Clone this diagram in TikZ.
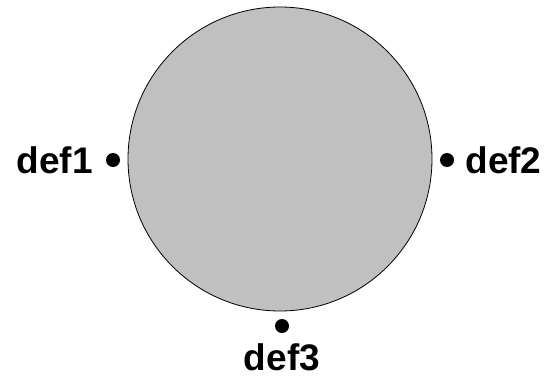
\documentclass[tikz,border=0pt]{standalone}
\usepackage{fontspec}
\setmainfont{Liberation Sans}
\usepackage{tikz}
\usetikzlibrary{positioning}
\definecolor{discgray}{RGB}{192,192,192}
\tikzset{
  dot/.style={circle, fill=black, inner sep=0pt, minimum size=14pt},
  lbl/.style={font=\fontsize{37}{37}\selectfont\bfseries, inner sep=0pt}
}

\begin{document}
\begin{tikzpicture}[x=1pt, y=-1pt]
  \useasboundingbox (0,0) rectangle (556,380);
  \node[circle, draw=black, fill=discgray, line width=0.8pt, minimum size=304pt, inner sep=0pt] (disc) at (280,159) {};
  \node[dot] (p1) at (113,160) {};
  \node[dot] (p2) at (447,160) {};
  \node[dot] (p3) at (282,326) {};
  \node[lbl, left=13pt of p1] (l1) {def1};
  \node[lbl, right=11pt of p2] (l2) {def2};
  \node[lbl, below=10pt of p3] (l3) {def3};
\end{tikzpicture}
\end{document}
